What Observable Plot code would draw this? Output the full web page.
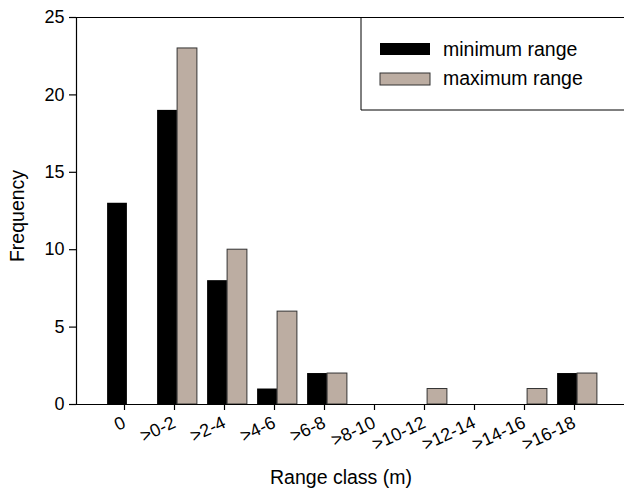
<!DOCTYPE html>
<html>
<head>
<meta charset="utf-8">
<script src="https://cdn.jsdelivr.net/npm/d3@7"></script>
<script src="https://cdn.jsdelivr.net/npm/@observablehq/plot@0.6"></script>
<style>
  html, body { margin: 0; padding: 0; background: #fff; }
  #chart { width: 624px; height: 488px; }
  svg { font-family: "Liberation Sans", Arial, sans-serif; }
</style>
</head>
<body>
<div id="chart"></div>
<script>
const categories = ["0", ">0-2", ">2-4", ">4-6", ">6-8", ">8-10", ">10-12", ">12-14", ">14-16", ">16-18"];
const minRange = [13, 19, 8, 1, 2, 0, 0, 0, 0, 2];
const maxRange = [0, 23, 10, 6, 2, 0, 1, 0, 1, 2];
const yTicks = [0, 5, 10, 15, 20, 25];
const seriesNames = ["minimum range", "maximum range"];
const seriesColors = ["#000000", "#bcada2"];

const data = categories.map((c, i) => ({cat: c, min: minRange[i], max: maxRange[i]}));

const W = 624, H = 488;
const plot = Plot.plot({
  width: W,
  height: H,
  marginLeft: 76,
  marginRight: 0,
  marginTop: 17,
  marginBottom: 84,
  style: {fontFamily: "Liberation Sans, Arial, sans-serif", fontSize: "18px", color: "#000", background: "#fff"},
  x: {domain: categories, range: [100.6, 603.1], padding: 0, label: null},
  y: {domain: [0, 25], label: null},
  marks: [
    Plot.barY(data.filter(d => d.min > 0), {x: "cat", y: "min", fill: seriesColors[0], insetLeft: 5.1, insetRight: 25.1}),
    Plot.barY(data.filter(d => d.max > 0), {x: "cat", y: "max", fill: seriesColors[1], stroke: "#333", strokeWidth: 1, insetLeft: 25.1, insetRight: 5.1}),
    Plot.ruleY([0], {stroke: "#000", strokeWidth: 1.2}),
    Plot.ruleY([25], {stroke: "#000", strokeWidth: 1.2}),
    Plot.frame({anchor: "left", stroke: "#000", strokeWidth: 1.2}),
    Plot.axisY({ticks: yTicks, tickSize: 7, tickPadding: 5, fontSize: 18, label: null, strokeWidth: 1.2}),
    Plot.axisX({tickSize: 6, tickPadding: 11, tickRotate: -25, dx: -3, fontSize: 18, label: null, strokeWidth: 1.2})
  ]
});
document.getElementById("chart").appendChild(plot);

const svg = d3.select(plot);
// axis titles
svg.append("text")
  .attr("x", 341).attr("y", 484)
  .attr("text-anchor", "middle")
  .style("font-size", "19.5px").attr("fill", "#000")
  .text("Range class (m)");
svg.append("text")
  .attr("transform", "translate(24,216) rotate(-90)")
  .attr("text-anchor", "middle")
  .style("font-size", "19.5px").attr("fill", "#000")
  .text("Frequency");

// legend
const lg = svg.append("g");
lg.append("path").attr("d", "M361,17V110H624").attr("fill", "none").attr("stroke", "#000").attr("stroke-width", 1);
seriesNames.forEach((name, i) => {
  lg.append("rect")
    .attr("x", 380).attr("y", 43 + i * 30).attr("width", 50).attr("height", 12)
    .attr("fill", seriesColors[i]).attr("stroke", i ? "#333" : "none");
  lg.append("text")
    .attr("x", 443).attr("y", 56 + i * 29)
    .attr("text-anchor", "start")
    .style("font-size", "19.5px").attr("fill", "#000")
    .text(name);
});
</script>
</body>
</html>
